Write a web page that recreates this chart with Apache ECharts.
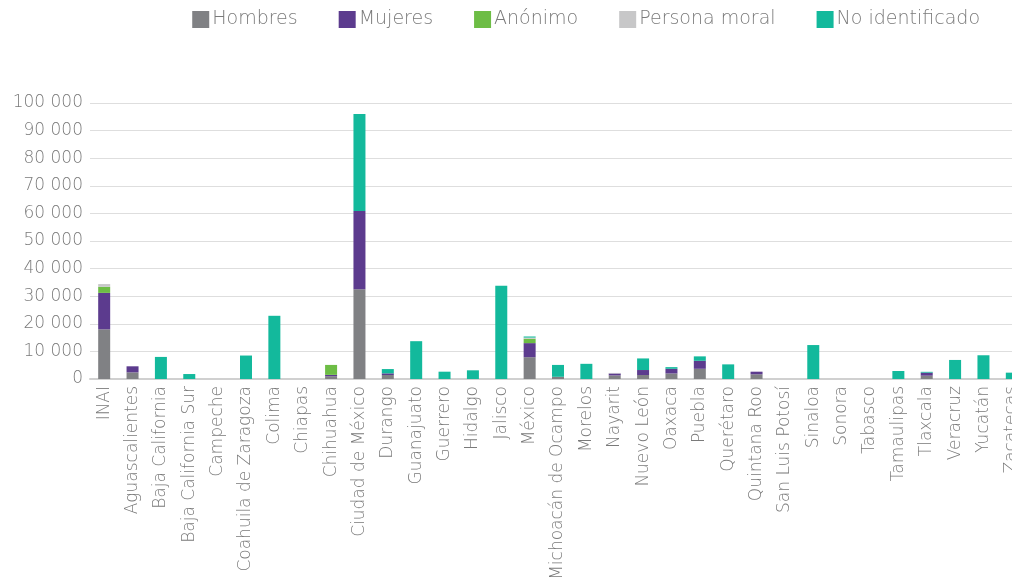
<!DOCTYPE html>
<html>
<head>
<meta charset="utf-8">
<script src="https://cdn.jsdelivr.net/npm/echarts@6/dist/echarts.min.js"></script>
<style>html,body{margin:0;padding:0;background:#fff;overflow:hidden;}#c{width:1040px;height:586px;}</style>
</head>
<body>
<div id="c"></div>
<script>
const categories = ['INAI','Aguascalientes','Baja California','Baja California Sur','Campeche','Coahuila de Zaragoza','Colima','Chiapas','Chihuahua','Ciudad de México','Durango','Guanajuato','Guerrero','Hidalgo','Jalisco','México','Michoacán de Ocampo','Morelos','Nayarit','Nuevo León','Oaxaca','Puebla','Querétaro','Quintana Roo','San Luis Potosí','Sinaloa','Sonora','Tabasco','Tamaulipas','Tlaxcala','Veracruz','Yucatán','Zacatecas'];
const hombres =       [18000,2400,0,0,0,0,0,0,1000,32500,1450,0,0,0,0,7900,800,0,1300,1450,2000,3700,0,1700,0,0,0,0,0,1200,0,0,0];
const mujeres =       [13200,2200,0,0,0,0,0,0,500,28400,600,0,0,0,0,5100,0,0,700,1800,1700,2900,0,950,0,0,0,0,0,1100,0,0,0];
const anonimo =       [2200,0,0,0,0,0,0,0,3600,0,0,0,0,0,0,1600,0,0,0,0,0,0,0,0,0,0,0,0,0,0,0,0,0];
const personaMoral =  [1000,0,0,0,0,0,0,0,0,0,0,0,0,0,0,400,0,0,200,0,0,0,0,0,0,0,0,0,0,0,0,0,0];
const noIdentificado =[0,0,8000,1800,0,8500,22900,0,0,35100,1550,13700,2650,3150,33800,400,4300,5500,0,4200,600,1600,5300,0,0,12300,0,0,2900,300,6900,8600,2300];
const yTicks = [0,10000,20000,30000,40000,50000,60000,70000,80000,90000,100000];

const FONT = 'DejaVu Sans';
const TXT = '#7a7a7a';
function mk(name, data, color){
  return {name, type:'bar', stack:'t', data, barWidth:12, itemStyle:{color}, emphasis:{disabled:true}};
}
const chart = echarts.init(document.getElementById('c'), null, {renderer:'canvas'});
chart.setOption({
  animation:false,
  textStyle:{fontFamily:FONT},
  legend:{
    right:55, top:5, itemWidth:17, itemHeight:17, itemGap:41, icon:'rect',
    textStyle:{fontFamily:FONT, fontSize:19, fontWeight:'lighter', color:TXT, padding:[0,0,0,-2]},
    data:['Hombres','Mujeres','Anónimo','Persona moral','No identificado']
  },
  grid:{left:90, top:103, width:936, height:276, containLabel:false},
  xAxis:{
    type:'category', data:categories,
    axisLine:{lineStyle:{color:'#d0d0d0', width:2}},
    axisTick:{show:false},
    axisLabel:{interval:0, rotate:90, margin:7, fontFamily:FONT, fontSize:17, fontWeight:'lighter', color:TXT}
  },
  yAxis:{
    type:'value', min:yTicks[0], max:yTicks[yTicks.length-1], interval:yTicks[1]-yTicks[0],
    axisLine:{show:false}, axisTick:{show:false},
    splitLine:{lineStyle:{color:'#dedede', width:1}},
    axisLabel:{margin:7, fontFamily:FONT, fontSize:17, fontWeight:'lighter', color:TXT,
      formatter:v=>String(v).replace(/\B(?=(\d{3})+(?!\d))/g,' ')}
  },
  series:[
    mk('Hombres', hombres, '#808184'),
    mk('Mujeres', mujeres, '#5c3b8e'),
    mk('Anónimo', anonimo, '#6dbd45'),
    mk('Persona moral', personaMoral, '#c7c7c8'),
    mk('No identificado', noIdentificado, '#13b99c')
  ]
});
</script>
</body>
</html>
